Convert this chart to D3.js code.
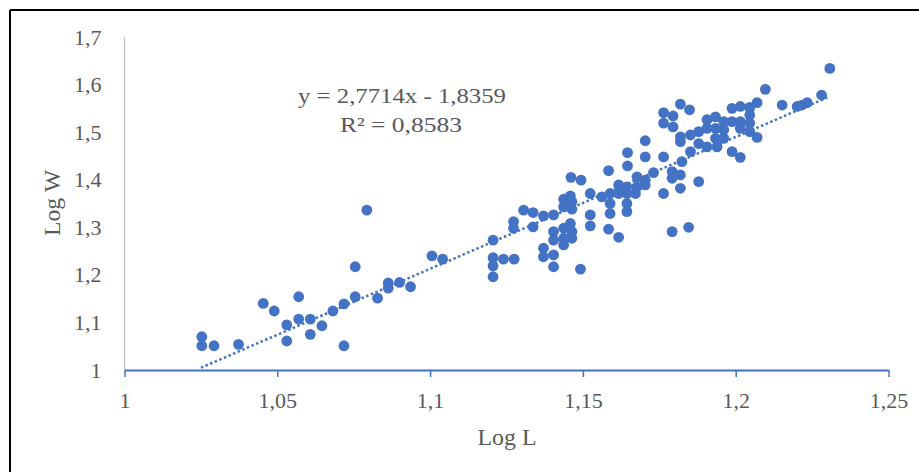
<!DOCTYPE html>
<html><head><meta charset="utf-8">
<script src="https://cdn.jsdelivr.net/npm/d3@7"></script>
<style>
html,body{margin:0;padding:0;background:#fff;}
svg{display:block;}
text{font-family:"Liberation Serif","DejaVu Serif",serif;fill:#595959;}
</style></head>
<body>
<svg id="chart" width="919" height="472"></svg>
<script>
// Data
const logL = [1.0253,1.0253,1.0293,1.0373,1.0454,1.0490,1.0570,1.0531,1.0570,1.0608,1.0531,1.0608,1.0646,1.0682,1.0718,1.0718,1.0755,1.0755,1.0793,1.0828,1.0863,1.0863,1.0900,1.0936,
1.1006,1.1041,1.1206,1.1206,1.1206,1.1206,1.1240,1.1275,1.1273,1.1273,1.1306,1.1337,1.1337,1.1371,1.1404,1.1371,1.1371,1.1404,1.1404,1.1404,1.1404,
1.1437,1.1459,1.1437,1.1464,1.1464,1.1459,1.1437,1.1464,1.1437,1.1464,1.1437,1.1461,1.1494,1.1492,1.1524,1.1524,1.1524,1.1562,1.1584,1.1589,1.1589,1.1589,1.1584,1.1617,
1.1617,1.1644,1.1617,1.1644,1.1672,1.1644,1.1644,1.1646,1.1646,1.1677,1.1704,1.1704,1.1677,1.1704,1.1704,1.1731,1.1764,1.1764,1.1792,1.1792,1.1819,1.1819,1.1824,1.1879,1.1792,1.1846,
1.1764,1.1764,1.1795,1.1795,1.1819,1.1849,1.1819,1.1819,1.1852,1.1879,1.1879,1.1906,1.1852,1.1906,1.1934,1.1961,1.1906,1.1934,1.1961,1.1988,1.2015,1.1988,1.2015,1.2015,
1.2046,1.2046,1.2046,1.2046,1.2070,1.2070,1.1988,1.2015,1.2097,1.2152,1.2201,1.2217,1.2234,1.2281,1.2308,1.1934,1.1961,1.1939];
const logW = [1.070,1.051,1.051,1.054,1.140,1.124,1.154,1.095,1.107,1.107,1.061,1.075,1.093,1.124,1.139,1.051,1.154,1.217,1.336,1.151,1.183,1.172,1.184,1.175,
1.240,1.233,1.273,1.236,1.219,1.196,1.233,1.233,1.312,1.298,1.336,1.331,1.301,1.324,1.326,1.256,1.238,1.291,1.273,1.242,1.217,
1.359,1.366,1.343,1.354,1.338,1.308,1.298,1.291,1.277,1.277,1.263,1.405,1.399,1.212,1.371,1.326,1.303,1.364,1.419,1.371,1.350,1.329,1.296,1.279,
1.389,1.385,1.371,1.371,1.371,1.350,1.333,1.457,1.429,1.406,1.399,1.389,1.385,1.448,1.482,1.415,1.448,1.371,1.417,1.403,1.410,1.382,1.438,1.396,1.291,1.300,
1.541,1.519,1.534,1.511,1.559,1.547,1.490,1.480,1.494,1.501,1.476,1.469,1.459,1.526,1.532,1.522,1.508,1.508,1.505,1.550,1.554,1.522,1.522,1.508,
1.552,1.536,1.519,1.501,1.562,1.489,1.459,1.447,1.590,1.557,1.554,1.557,1.562,1.578,1.634,1.487,1.487,1.469];
const xTicks = [1, 1.05, 1.1, 1.15, 1.2, 1.25];
const xTickLabels = ["1", "1,05", "1,1", "1,15", "1,2", "1,25"];
const yTicks = [1, 1.1, 1.2, 1.3, 1.4, 1.5, 1.6, 1.7];
const yTickLabels = ["1", "1,1", "1,2", "1,3", "1,4", "1,5", "1,6", "1,7"];
const slope = 2.7714, intercept = -1.8359;
const trendX = [1.025, 1.23];
const eqText = "y = 2,7714x - 1,8359";
const r2Text = "R² = 0,8583";

const svg = d3.select("#chart");
const blue = "#4472C4";

// frame (top and left edges)
svg.append("line").attr("x1",10).attr("x2",919).attr("y1",10).attr("y2",10).attr("stroke","#000").attr("stroke-width",2);
svg.append("line").attr("x1",10).attr("x2",10).attr("y1",10).attr("y2",472).attr("stroke","#000").attr("stroke-width",2);

const x = d3.scaleLinear().domain([1, 1.25]).range([124.5, 888.5]);
const y = d3.scaleLinear().domain([1, 1.7]).range([370, 37]);

// y axis line (gray)
svg.append("line").attr("x1",x(1)).attr("x2",x(1)).attr("y1",y(1.7)).attr("y2",y(1))
  .attr("stroke","#bfbfbf").attr("stroke-width",1.2);

// y tick labels
const yAxis = d3.axisLeft(y).tickValues(yTicks).tickSize(0).tickPadding(23)
  .tickFormat((d,i)=>yTickLabels[i]);
const gy = svg.append("g").attr("transform",`translate(${x(1)},0)`).call(yAxis);
gy.select(".domain").remove();
gy.selectAll("text").style("font-size","22px").style("font-family",'"Liberation Serif",serif').attr("fill","#595959");

// x axis (blue line with ticks)
const xAxis = d3.axisBottom(x).tickValues(xTicks).tickSize(7).tickSizeOuter(0).tickPadding(15)
  .tickFormat((d,i)=>xTickLabels[i]);
const gx = svg.append("g").attr("transform",`translate(0,${y(1)})`).call(xAxis);
gx.select(".domain").attr("stroke",blue).attr("stroke-width",2);
gx.selectAll(".tick line").attr("stroke",blue).attr("stroke-width",1.5);
gx.selectAll("text").style("font-size","22px").style("font-family",'"Liberation Serif",serif').attr("fill","#595959");

// trendline
svg.append("line")
  .attr("x1",x(trendX[0])).attr("y1",y(slope*trendX[0]+intercept))
  .attr("x2",x(trendX[1])).attr("y2",y(slope*trendX[1]+intercept))
  .attr("stroke",blue).attr("stroke-width",2.5).attr("stroke-dasharray","2.5,2.5");

// points
const pts = logL.map((v,i)=>({x:v, y:logW[i]}));
svg.append("g").selectAll("circle").data(pts).join("circle")
  .attr("cx",d=>x(d.x)).attr("cy",d=>y(d.y)).attr("r",5.4).attr("fill",blue);

// equation
svg.append("text").attr("x",402).attr("y",103).attr("text-anchor","middle").style("font-size","22px")
  .attr("textLength",208).attr("lengthAdjust","spacingAndGlyphs").text(eqText);
svg.append("text").attr("x",401).attr("y",132).attr("text-anchor","middle").style("font-size","22px")
  .attr("textLength",122).attr("lengthAdjust","spacingAndGlyphs").text(r2Text);

// axis titles
svg.append("text").attr("x",507).attr("y",445).attr("text-anchor","middle").style("font-size","23px")
  .attr("textLength",59).attr("lengthAdjust","spacingAndGlyphs").text("Log L");
svg.append("text").attr("transform","translate(60,203) rotate(-90)").attr("text-anchor","middle").style("font-size","23px")
  .attr("textLength",66).attr("lengthAdjust","spacingAndGlyphs").text("Log W");
</script>
</body></html>
